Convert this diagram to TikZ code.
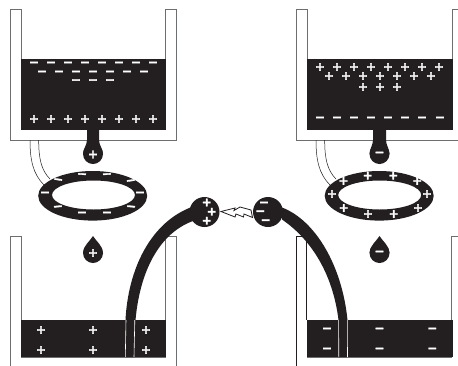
\documentclass[tikz,border=0pt]{standalone}
\usepackage{fontspec}
\setmainfont{DejaVu Sans}
\newfontfamily\signfont{DejaVu Sans Bold}[FakeBold=2.6]
\definecolor{ink}{HTML}{231F20}
\definecolor{wall}{HTML}{6D6E70}
\newcommand{\signrow}[3]{\foreach \px in {#3} \node[sign] at (\px,#2) {#1};}
\newcommand{\pl}{+}
\newcommand{\mi}{−}
\tikzset{
  sign/.style={text=white,font=\fontsize{12}{12}\selectfont\signfont,inner sep=0pt},
  beaker/.style={draw=wall,line width=0.8pt,fill=white},
  liquid/.style={fill=ink,draw=none},
  thinwire/.style={draw=ink,line width=0.5pt},
  whitewire/.style={draw=white,line width=0.6pt}
}
\begin{document}
\begin{tikzpicture}[x=1pt,y=-1pt]
\useasboundingbox (0,0) rectangle (458,365);
\clip (0,0) rectangle (458,365);
% top beakers
\draw[beaker] (10,9) -- (21,9) -- (21,129) -- (165.5,129) -- (165.5,9) -- (176,9) -- (176,140) -- (10,140) -- cycle;
\draw[beaker] (296.5,9) -- (307,9) -- (307,129) -- (452,129) -- (452,9) -- (459,9) -- (459,140) -- (296.5,140) -- cycle;
\fill[liquid] (20.5,59) rectangle (166,129.5);
\fill[liquid] (306.5,59) rectangle (452.5,129.5);
% bottom beakers
\draw[wall,line width=0.8pt] (10,366) -- (10,236) -- (21,236) -- (21,320);
\draw[wall,line width=0.8pt] (165.5,320) -- (165.5,236) -- (176,236) -- (176,366);
\draw[wall,line width=0.8pt] (21,357.5) -- (165.5,357.5);
\draw[ink,line width=0.8pt] (296.5,366) -- (296.5,236) -- (306.7,236) -- (306.7,320);
\draw[wall,line width=0.8pt] (451.7,320) -- (451.7,236) -- (459,236);
\draw[wall,line width=0.8pt] (307,357.5) -- (452,357.5);
\fill[liquid] (20.5,320) rectangle (166,357);
\fill[liquid] (306.5,320) rectangle (452.5,357);
% wires from tank to ring
\draw[thinwire] (30,140) .. controls (30,160) and (33,174) .. (44,185);
\draw[thinwire] (38.7,140) .. controls (38.7,158) and (41,170) .. (50,179);
\draw[thinwire] (316,140) .. controls (316,160) and (319,174) .. (330,185);
\draw[thinwire] (324.7,140) .. controls (324.7,158) and (327,170) .. (336,179);
% rings
\fill[ink,even odd rule] (92.7,195.8) ellipse [x radius=54.5,y radius=24.8] (93.5,195) ellipse [x radius=41.5,y radius=14.5];
\fill[ink,even odd rule] (379.2,195.8) ellipse [x radius=54.5,y radius=24.8] (379.7,195) ellipse [x radius=41.5,y radius=14.5];
% hanging drops
\fill[ink] (87,129) -- (87,140) .. controls (87,145) and (83,149) .. (83,154) -- (103,154) .. controls (103,149) and (99,145) .. (99,140) -- (99,129) -- cycle;
\fill[ink] (93,154) circle[radius=10];
\fill[ink] (373,129) -- (373,140) .. controls (373,145) and (369.5,149) .. (369.5,154) -- (389.5,154) .. controls (389.5,149) and (386,145) .. (386,140) -- (386,129) -- cycle;
\fill[ink] (379.5,154) circle[radius=10];
% free drops
\fill[ink] (93,236) .. controls (90,241) and (83,246) .. (83,253) -- (103,253) .. controls (103,246) and (96,241) .. (93,236) -- cycle;
\fill[ink] (93,253) circle[radius=10];
\fill[ink] (379.5,236) .. controls (376.5,241) and (369.5,246) .. (369.5,253) -- (389.5,253) .. controls (389.5,246) and (382.5,241) .. (379.5,236) -- cycle;
\fill[ink] (379.5,253) circle[radius=10];
% tubes
\fill[ink] (125.5,357) -- (125.5,320) .. controls (128,270) and (150,222) .. (193,206.5) -- (193,221) .. controls (160,233) and (140,270) .. (135.5,320) -- (134.5,357) -- cycle;
\fill[ink] (338,357) -- (338.5,320) .. controls (333,275) and (312,240) .. (282,219.5) -- (282,207.5) .. controls (315,220) and (342,265) .. (347.5,320) -- (347.5,357) -- cycle;
\draw[whitewire] (126,320) -- (125.3,357);
\draw[whitewire] (134.8,320) -- (134,357);
\draw[whitewire] (338.6,320) -- (338.8,357);
\draw[whitewire] (347.3,320) -- (347.5,357);
% balls
\fill[ink] (204.5,212) circle[radius=15];
\fill[ink] (268,212) circle[radius=15];
% spark
\draw[fill=white,draw=ink,line width=0.8pt,line join=miter] (221,211.5) -- (235,208) -- (234,210.5) -- (240,207) -- (251,210) -- (252.5,217.5) -- (244,214) -- (243.5,217) -- (236,214) -- (235,217) -- cycle;
% signs: top left
\signrow{\mi}{64}{34,51,68,85,102,119,136,153}
\signrow{\mi}{73}{42,59,76,93,110,127,144}
\signrow{\mi}{81.5}{76,93,110}
\signrow{\pl}{119}{34,51,68,85,102,119,136,153}
\node[sign] at (93,154.5) {\pl};
% top right
\signrow{\pl}{67}{320,337,354,371,388,405,422,439}
\signrow{\pl}{76}{329,346,363,380,397,414,431}
\signrow{\pl}{87}{363,380,397}
\signrow{\mi}{119}{320,337,354,371,388,405,422,440}
\node[sign] at (379.5,154) {\mi};
% left ring
\foreach \px/\py/\ra in {45/194/0,58/208/5,82/214/0,107/214/0,131/208/-5,140/194/0,58/181/-8,82/175.6/-3,107/175.6/3,131/182/8}
  \node[sign,rotate=\ra] at (\px,\py) {\mi};
% right ring
\foreach \px/\py in {332/194,343.7/208,368/214,393.7/214,418/208,427/194,343.5/181,367.7/175.6,393.3/175.6,417.3/181}
  \node[sign] at (\px,\py) {\pl};
% free drops signs
\node[sign] at (93,253) {\pl};
\node[sign] at (379.5,253) {\mi};
% bottom liquids
\signrow{\pl}{330}{41,93,146}
\signrow{\pl}{350}{41,93,146}
\signrow{\mi}{330}{327,379.5,432.3}
\signrow{\mi}{350}{327,379.5,432.3}
% balls signs
\node[sign] at (206.7,202.5) {\pl};
\node[sign] at (211.7,211.7) {\pl};
\node[sign] at (206.7,220.7) {\pl};
\node[sign] at (264,204) {\mi};
\node[sign] at (260.3,212.7) {\mi};
\node[sign] at (265.7,221.7) {\mi};
\end{tikzpicture}
\end{document}
